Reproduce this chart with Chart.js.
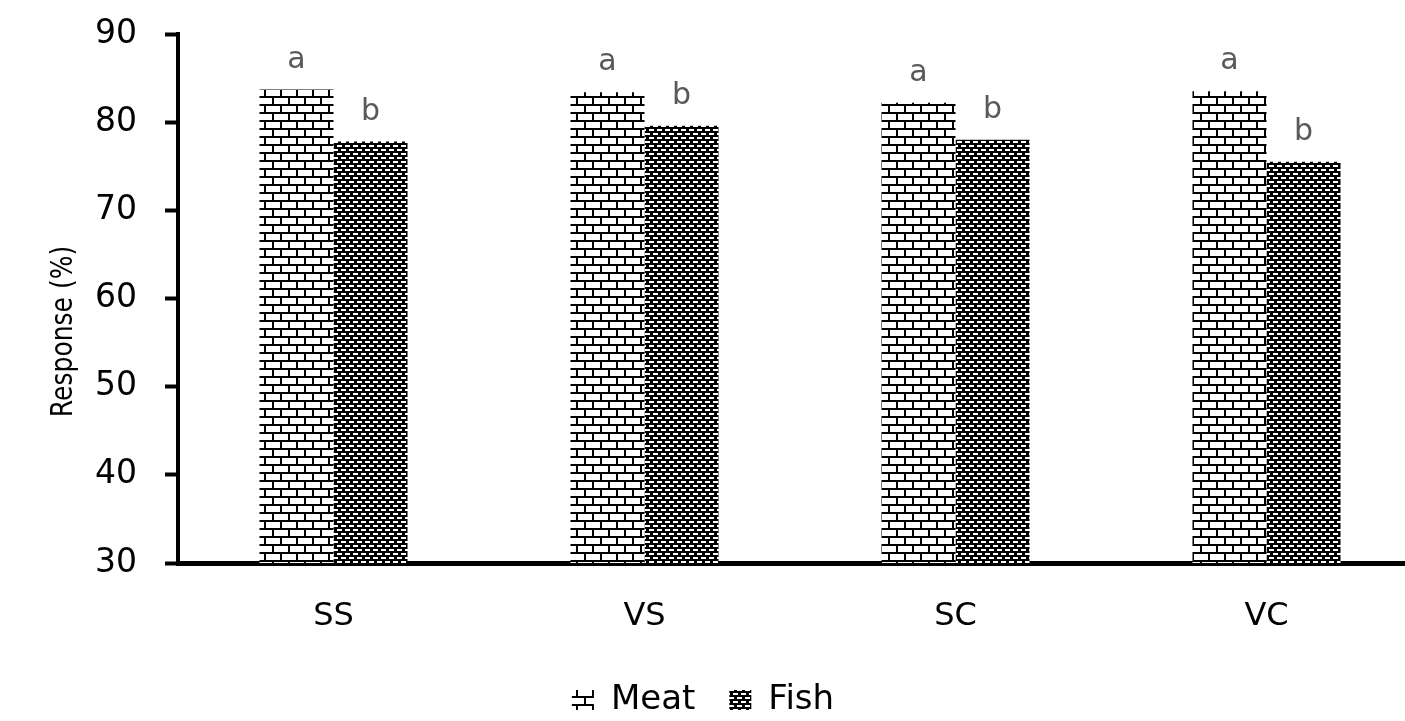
<!DOCTYPE html>
<html>
<head>
<meta charset="utf-8">
<script src="https://cdn.jsdelivr.net/npm/chart.js@4.4.1/dist/chart.umd.min.js"></script>
<style>
  html, body { margin: 0; padding: 0; overflow: hidden; background: #ffffff; }
  canvas { display: block; }
</style>
</head>
<body>
<canvas id="chart" width="1422" height="727"></canvas>
<script>
// Data
const categories = ['SS', 'VS', 'SC', 'VC'];
const meatValues = [83.7, 83.4, 82.2, 83.5];
const fishValues = [77.8, 79.6, 78.0, 75.5];
const meatLetters = ['a', 'a', 'a', 'a'];
const fishLetters = ['b', 'b', 'b', 'b'];
const yMin = 30;
const yMax = 90;
const yStep = 10;
const yTitle = 'Response (%)';

const FONT = '"DejaVu Sans", "Open Sans", sans-serif';
const canvas = document.getElementById('chart');
const ctx = canvas.getContext('2d');

// Brick fill: white bricks with black mortar lines, rows offset by half a brick
function makeBrickPattern() {
  const t = document.createElement('canvas');
  t.width = 16; t.height = 16;
  const g = t.getContext('2d');
  g.fillStyle = '#ffffff';
  g.fillRect(0, 0, 16, 16);
  g.fillStyle = '#000000';
  g.fillRect(0, 0, 16, 2);
  g.fillRect(0, 8, 16, 2);
  g.fillRect(0, 2, 2, 6);
  g.fillRect(8, 10, 2, 6);
  return ctx.createPattern(t, 'repeat');
}

// Dense dark fill: black ground with staggered short white dashes
function makeDashPattern() {
  const t = document.createElement('canvas');
  t.width = 8; t.height = 8;
  const g = t.getContext('2d');
  g.fillStyle = '#000000';
  g.fillRect(0, 0, 8, 8);
  g.fillStyle = '#ffffff';
  g.fillRect(1, 1, 5, 2);
  g.fillRect(5, 5, 3, 2);
  g.fillRect(0, 5, 2, 2);
  return ctx.createPattern(t, 'repeat');
}

const meatFill = makeBrickPattern();
const fishFill = makeDashPattern();

// Significance letters above each bar
const letterPlugin = {
  id: 'letterPlugin',
  afterDatasetsDraw(chart) {
    const c = chart.ctx;
    const sets = [meatLetters, fishLetters];
    c.save();
    c.font = '30px ' + FONT;
    c.fillStyle = '#595959';
    c.textAlign = 'center';
    c.textBaseline = 'alphabetic';
    sets.forEach((letters, i) => {
      const meta = chart.getDatasetMeta(i);
      meta.data.forEach((bar, j) => {
        c.fillText(letters[j], bar.x, bar.y - 22);
      });
    });
    c.restore();
  }
};

// Vertical axis title, set a little below the middle of the axis
const axisTitlePlugin = {
  id: 'axisTitlePlugin',
  afterDraw(chart) {
    const c = chart.ctx;
    const area = chart.chartArea;
    c.save();
    c.translate(64, (area.top + area.bottom) / 2 + 33);
    c.scale(1.2, 1);
    c.rotate(-Math.PI / 2);
    c.font = '25px ' + FONT;
    c.fillStyle = '#000000';
    c.textAlign = 'center';
    c.textBaseline = 'middle';
    c.fillText(yTitle, 0, 0);
    c.restore();
  }
};

// Move the legend row to sit under the visible middle of the figure
const legendShift = {
  id: 'legendShift',
  afterLayout(chart) {
    if (chart.legend) {
      chart.legend.left -= 8;
      chart.legend.right -= 8;
    }
  }
};

new Chart(ctx, {
  type: 'bar',
  data: {
    labels: categories,
    datasets: [
      {
        label: 'Meat',
        data: meatValues,
        backgroundColor: meatFill,
        borderWidth: 0,
        barPercentage: 1,
        categoryPercentage: 0.476
      },
      {
        label: 'Fish',
        data: fishValues,
        backgroundColor: fishFill,
        borderWidth: 0,
        barPercentage: 1,
        categoryPercentage: 0.476
      }
    ]
  },
  options: {
    responsive: false,
    animation: false,
    devicePixelRatio: 1,
    layout: { padding: { top: 34, left: 0, right: 0, bottom: 0 } },
    plugins: {
      legend: {
        position: 'bottom',
        labels: {
          color: '#000000',
          font: { family: FONT, size: 34 },
          boxWidth: 22,
          boxHeight: 20,
          padding: 34
        }
      },
      tooltip: { enabled: false }
    },
    scales: {
      x: {
        grid: { display: false, drawTicks: false },
        border: { display: true, color: '#000000', width: 5 },
        ticks: {
          color: '#000000',
          font: { family: FONT, size: 32 },
          padding: 34
        },
        afterFit(scale) { scale.height = 86; }
      },
      y: {
        min: yMin,
        max: yMax,
        ticks: {
          stepSize: yStep,
          color: '#000000',
          font: { family: FONT, size: 33 },
          padding: 28
        },
        grid: {
          drawOnChartArea: false,
          drawTicks: true,
          tickLength: 13,
          tickWidth: 4,
          tickColor: '#000000',
          color: '#000000'
        },
        border: { display: true, color: '#000000', width: 4 },
        afterFit(scale) {
          scale.width = 178;
          scale.paddingTop = 0;
          scale.paddingBottom = 0;
        }
      }
    }
  },
  plugins: [letterPlugin, axisTitlePlugin, legendShift]
});
</script>
</body>
</html>
